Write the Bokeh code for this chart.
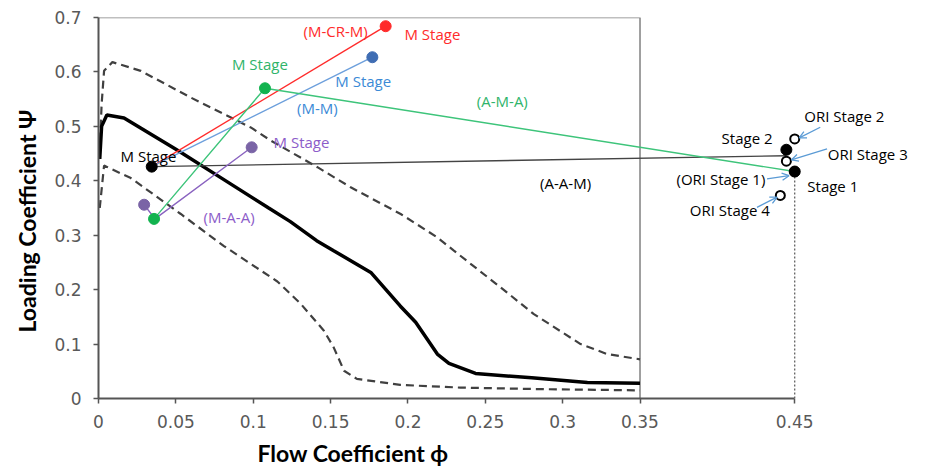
from bokeh.plotting import figure
from bokeh.models import Range1d, FixedTicker, Label, Arrow, OpenHead, Title
from bokeh.embed import file_html
from bokeh.resources import INLINE

# ---- design-line curves: loading coefficient vs flow coefficient ----
mid_x = [0.0008, 0.002, 0.0054, 0.0165, 0.05, 0.08, 0.11, 0.124, 0.141, 0.152,
         0.176, 0.195, 0.205, 0.219, 0.2265, 0.2437, 0.28, 0.316, 0.35]
mid_y = [0.44, 0.50, 0.521, 0.5155, 0.458, 0.404, 0.350, 0.325, 0.29, 0.2715,
         0.2317, 0.17, 0.14, 0.0816, 0.0644, 0.046, 0.038, 0.0294, 0.028]

upper_x = [0.0008, 0.002, 0.0036, 0.009, 0.0273, 0.0596, 0.0984, 0.1113, 0.1415,
           0.163, 0.1953, 0.219, 0.2297, 0.26, 0.2814, 0.3116, 0.3288, 0.35]
upper_y = [0.45, 0.54, 0.602, 0.618, 0.602, 0.553, 0.498, 0.474, 0.425,
           0.388, 0.339, 0.296, 0.2716, 0.204, 0.155, 0.100, 0.0816, 0.072]

lower_x = [0.0008, 0.0036, 0.0209, 0.0532, 0.0811, 0.1156, 0.1307, 0.1457, 0.152,
           0.1587, 0.167, 0.195, 0.234, 0.29, 0.35]
lower_y = [0.35, 0.428, 0.405, 0.339, 0.28, 0.215, 0.174, 0.1245, 0.094,
           0.051, 0.036, 0.025, 0.020, 0.017, 0.015]

# ---- stage configuration paths ----
m_stage = (0.0344, 0.426)                                        # common M stage start
mcrm_x = [0.0344, 0.1856]; mcrm_y = [0.426, 0.684]               # (M-CR-M)
mm_x = [0.0344, 0.177];    mm_y = [0.426, 0.627]                 # (M-M)
ama_x = [0.0359, 0.1076, 0.45]; ama_y = [0.330, 0.570, 0.417]   # (A-M-A)
maa_x = [0.0295, 0.0365, 0.099]; maa_y = [0.356, 0.330, 0.4615] # (M-A-A)
aam_x = [0.0344, 0.4446]; aam_y = [0.426, 0.446]                 # (A-A-M)

# final stages and original stages
stage_x = [0.45, 0.4446]; stage_y = [0.417, 0.457]               # Stage 1, Stage 2
ori_x = [0.45, 0.45, 0.4446, 0.4407]; ori_y = [0.417, 0.477, 0.436, 0.373]  # ORI 1..4

x_ticks = [0, 0.05, 0.1, 0.15, 0.2, 0.25, 0.3, 0.35, 0.45]
x_tick_labels = ["0", "0.05", "0.1", "0.15", "0.2", "0.25", "0.3", "0.35", "0.45"]
y_ticks = [0, 0.1, 0.2, 0.3, 0.4, 0.5, 0.6, 0.7]
y_tick_labels = ["0", "0.1", "0.2", "0.3", "0.4", "0.5", "0.6", "0.7"]
x_axis_end = 0.45

RED = "#ff2b2b"
BLUE_LINE = "#6c9fdc"
BLUE_TXT = "#3b8ad6"
BLUE_DOT = "#3f6db3"
GREEN_LINE = "#3dc47a"
GREEN_TXT = "#2fb46a"
GREEN_DOT = "#12b34f"
PURPLE_LINE = "#8a63c0"
PURPLE_TXT = "#8c5cc9"
PURPLE_DOT = "#7a64a6"
ARROW = "#5b9bd5"

p = figure(width=928, height=473, x_range=Range1d(0, 0.53), y_range=Range1d(0, 0.7),
           output_backend="svg", toolbar_location=None,
           min_border_left=98, min_border_right=10, min_border_top=17, min_border_bottom=75)
p.outline_line_color = None
p.grid.visible = False
p.background_fill_color = "white"

# axes
p.xaxis.bounds = (0, x_axis_end)
p.xaxis.ticker = FixedTicker(ticks=x_ticks)
p.xaxis.major_label_overrides = dict(zip(x_ticks, x_tick_labels))
p.yaxis.bounds = (0, 0.7)
p.yaxis.ticker = FixedTicker(ticks=y_ticks)
p.yaxis.major_label_overrides = dict(zip(y_ticks, y_tick_labels))
for ax in (p.xaxis, p.yaxis):
    ax.axis_line_color = "#555555"
    ax.axis_line_width = 2
    ax.major_tick_line_color = "#555555"
    ax.major_tick_line_width = 1.5
    ax.major_tick_in = 0
    ax.major_tick_out = 5
    ax.minor_tick_line_color = None
    ax.major_label_text_font = "DejaVu Sans"
    ax.major_label_text_font_size = "17px"
    ax.major_label_text_color = "#595959"
p.xaxis.major_label_standoff = 11
p.yaxis.major_label_standoff = 12

# axis titles
p.add_layout(Title(text="Flow Coefficient ϕ", align="left", offset=159, standoff=13,
                   text_font="Lato", text_font_style="bold", text_font_size="23px",
                   text_color="black"), "below")
p.add_layout(Title(text="Loading Coefficient Ψ", align="left", offset=66, standoff=21,
                   text_font="Lato", text_font_style="bold", text_font_size="23px",
                   text_color="black"), "left")

# chart box (top and right edges)
p.line([0, 0.35, 0.35], [0.7, 0.7, 0], line_color="#808080", line_width=1.5)

# design-line band
p.line(upper_x, upper_y, line_color="#404040", line_width=2.2, line_dash="8 5")
p.line(lower_x, lower_y, line_color="#404040", line_width=2.2, line_dash="8 5")
p.line(mid_x, mid_y, line_color="black", line_width=3.5)

# dotted drop line from Stage 1
p.line([stage_x[0], stage_x[0]], [0, stage_y[0]], line_color="#555555", line_width=1.2,
       line_dash="2 2")

# configuration paths
p.line(aam_x, aam_y, line_color="#444444", line_width=1.4)
p.line(mcrm_x, mcrm_y, line_color=RED, line_width=1.4)
p.line(mm_x, mm_y, line_color=BLUE_LINE, line_width=1.4)
p.line(maa_x, maa_y, line_color=PURPLE_LINE, line_width=1.4)
p.line(ama_x, ama_y, line_color=GREEN_LINE, line_width=1.4)

# markers
p.scatter([m_stage[0]], [m_stage[1]], size=11, color="black")
p.scatter([mcrm_x[-1]], [mcrm_y[-1]], size=11, color=RED)
p.scatter([mm_x[-1]], [mm_y[-1]], size=11, color=BLUE_DOT)
p.scatter(ama_x[:2], ama_y[:2], size=11, color=GREEN_DOT)
p.scatter([maa_x[0], maa_x[2]], [maa_y[0], maa_y[2]], size=11, color=PURPLE_DOT)
p.scatter(ori_x, ori_y, size=9, fill_color="white", line_color="black", line_width=2)
p.scatter(stage_x, stage_y, size=11, color="black")

# arrows pointing at the original stages
for xs, ys, xe, ye in [(0.4665, 0.4983, 0.4529, 0.4787),
                       (0.4709, 0.4585, 0.4478, 0.4383),
                       (0.4321, 0.4034, 0.4463, 0.4094),
                       (0.4256, 0.3512, 0.4386, 0.3700)]:
    p.add_layout(Arrow(end=OpenHead(size=7, line_color=ARROW, line_width=1.3),
                       x_start=xs, y_start=ys, x_end=xe, y_end=ye,
                       line_color=ARROW, line_width=1.3))

# annotations
notes = [
    ("M Stage", 0.0323, 0.4462, "black"),
    ("(M-CR-M)", 0.1533, 0.6748, RED),
    ("M Stage", 0.2158, 0.670, RED),
    ("M Stage", 0.1043, 0.6148, GREEN_TXT),
    ("M Stage", 0.1711, 0.5828, BLUE_TXT),
    ("(M-M)", 0.1415, 0.534, BLUE_TXT),
    ("(A-M-A)", 0.261, 0.5473, GREEN_TXT),
    ("M Stage", 0.1312, 0.4707, PURPLE_TXT),
    ("(M-A-A)", 0.0844, 0.3328, PURPLE_TXT),
    ("(A-A-M)", 0.3019, 0.3953, "black"),
    ("ORI Stage  2", 0.4833, 0.5198, "black"),
    ("Stage 2", 0.4192, 0.4788, "black"),
    ("ORI Stage 3", 0.4972, 0.4493, "black"),
    ("(ORI Stage 1)", 0.4023, 0.4034, "black"),
    ("Stage 1", 0.4746, 0.3911, "black"),
    ("ORI Stage  4", 0.4093, 0.3464, "black"),
]
for txt, x, y, col in notes:
    p.add_layout(Label(x=x, y=y, text=txt, text_color=col, text_font="Open Sans",
                       text_font_size="15px", text_align="center", text_baseline="middle"))

open("out.html", "w").write(file_html(p, INLINE))
